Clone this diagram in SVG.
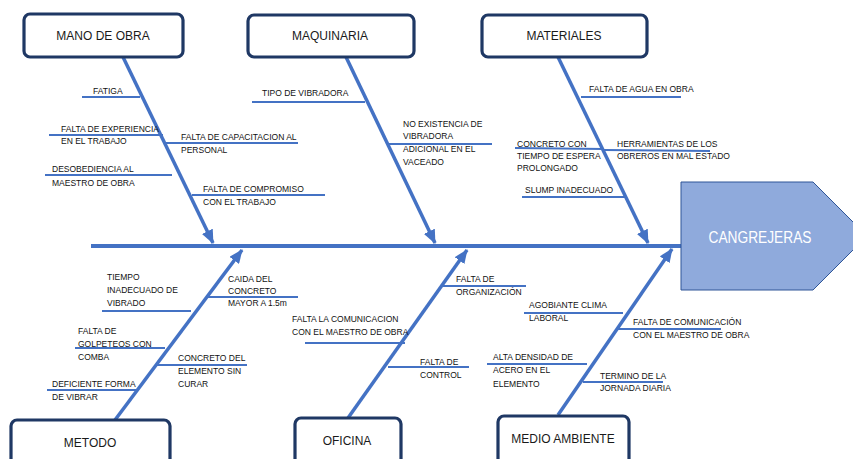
<svg xmlns="http://www.w3.org/2000/svg" width="853" height="459" viewBox="0 0 853 459">
  <defs>
    <marker id="head" markerUnits="userSpaceOnUse" markerWidth="14" markerHeight="12" refX="13" refY="6" orient="auto">
      <path d="M0,0 L14,6 L0,12 Z" fill="#4472C4"/>
    </marker>
    <style>
      .box { fill: #ffffff; stroke: #1F3864; stroke-width: 3.2; }
      .cat { font-family: "Liberation Sans", Arial, sans-serif; font-size: 12px; fill: #1a1a1a; text-anchor: middle; }
      .bone { stroke: #4472C4; stroke-width: 3.5; fill: none; }
      .spine { stroke: #4472C4; stroke-width: 4; fill: none; }
      .twig { stroke: #4472C4; stroke-width: 2; fill: none; }
      .lbl { font-family: "Liberation Sans", Arial, sans-serif; font-size: 8.5px; fill: #111111; }
      .head { fill: #8FAADC; stroke: #2F5597; stroke-width: 1; }
      .headtxt { font-family: "Liberation Sans", Arial, sans-serif; font-size: 16px; fill: #ffffff; text-anchor: middle; }
    </style>
  </defs>
  <rect width="853" height="459" fill="#ffffff"/>

  <!-- spine, bones and cause lines -->
  <g id="connectors">
    <line class="spine" x1="91" y1="246" x2="681" y2="246"/>
    <line class="bone" x1="123" y1="57" x2="213" y2="243" marker-end="url(#head)"/>
    <line class="bone" x1="346" y1="57" x2="435" y2="243" marker-end="url(#head)"/>
    <line class="bone" x1="558" y1="57" x2="648" y2="243" marker-end="url(#head)"/>
    <line class="bone" x1="115" y1="420" x2="242" y2="250" marker-end="url(#head)"/>
    <line class="bone" x1="348" y1="418" x2="467" y2="250" marker-end="url(#head)"/>
    <line class="bone" x1="558" y1="415" x2="672" y2="249" marker-end="url(#head)"/>

    <line class="twig" x1="82" y1="97" x2="140" y2="97"/>
    <line class="twig" x1="49" y1="135" x2="163" y2="135"/>
    <line class="twig" x1="164" y1="143" x2="298" y2="143"/>
    <line class="twig" x1="45" y1="175" x2="172" y2="175"/>
    <line class="twig" x1="192" y1="195" x2="325" y2="195"/>

    <line class="twig" x1="252" y1="102" x2="365" y2="102"/>
    <line class="twig" x1="388" y1="144" x2="492" y2="144"/>

    <line class="twig" x1="581" y1="97" x2="681" y2="97"/>
    <line class="twig" x1="515" y1="148" x2="604" y2="149"/>
    <line class="twig" x1="604" y1="150" x2="710" y2="151"/>
    <line class="twig" x1="522" y1="197" x2="625" y2="197"/>

    <line class="twig" x1="102" y1="311" x2="191" y2="311"/>
    <line class="twig" x1="208" y1="297" x2="298" y2="297"/>
    <line class="twig" x1="75" y1="348" x2="165" y2="348"/>
    <line class="twig" x1="157" y1="365" x2="247" y2="365"/>
    <line class="twig" x1="47" y1="390" x2="137" y2="390"/>

    <line class="twig" x1="443" y1="286" x2="526" y2="286"/>
    <line class="twig" x1="305" y1="343" x2="405" y2="343"/>
    <line class="twig" x1="388" y1="367" x2="469" y2="367"/>

    <line class="twig" x1="487" y1="364" x2="587" y2="364"/>
    <line class="twig" x1="524" y1="313" x2="623" y2="313"/>
    <line class="twig" x1="618" y1="329" x2="721" y2="329"/>
    <line class="twig" x1="583" y1="382" x2="663" y2="382"/>
  </g>

  <!-- effect -->
  <g id="cangrejeras">
    <polygon class="head" points="681,182 813,182 867,236 813,290 681,290"/>
    <text class="headtxt" x="760" y="243" textLength="103" lengthAdjust="spacingAndGlyphs">CANGREJERAS</text>
  </g>

  <!-- categories -->
  <g id="mano-de-obra">
    <rect class="box" x="24" y="14" width="159" height="43" rx="6"/>
    <text class="cat" x="103" y="40">MANO DE OBRA</text>
  </g>
  <g id="maquinaria">
    <rect class="box" x="248" y="15" width="166" height="42" rx="6"/>
    <text class="cat" x="330" y="40">MAQUINARIA</text>
  </g>
  <g id="materiales">
    <rect class="box" x="482" y="15" width="165" height="42" rx="6"/>
    <text class="cat" x="564" y="40">MATERIALES</text>
  </g>
  <g id="metodo">
    <rect class="box" x="11" y="420" width="159" height="50" rx="6"/>
    <text class="cat" x="90" y="447">METODO</text>
  </g>
  <g id="oficina">
    <rect class="box" x="295" y="418" width="106" height="50" rx="6"/>
    <text class="cat" x="347" y="445">OFICINA</text>
  </g>
  <g id="medio-ambiente">
    <rect class="box" x="498" y="416" width="131" height="50" rx="6"/>
    <text class="cat" x="563" y="443">MEDIO AMBIENTE</text>
  </g>

  <!-- causes: mano de obra -->
  <g id="fatiga"><text class="lbl" x="93" y="94">FATIGA</text></g>
  <g id="falta-experiencia"><text class="lbl" x="61" y="132">FALTA DE EXPERIENCIA<tspan x="61" y="144">EN EL TRABAJO</tspan></text></g>
  <g id="falta-capacitacion"><text class="lbl" x="181" y="140">FALTA DE CAPACITACION AL<tspan x="181" y="153">PERSONAL</tspan></text></g>
  <g id="desobediencia"><text class="lbl" x="52" y="172">DESOBEDIENCIA AL<tspan x="52" y="186">MAESTRO DE OBRA</tspan></text></g>
  <g id="falta-compromiso"><text class="lbl" x="203" y="192">FALTA DE COMPROMISO<tspan x="203" y="205">CON EL TRABAJO</tspan></text></g>

  <!-- causes: maquinaria -->
  <g id="tipo-vibradora"><text class="lbl" x="262" y="96">TIPO DE VIBRADORA</text></g>
  <g id="no-existencia"><text class="lbl" x="403" y="127">NO EXISTENCIA DE<tspan x="403" y="139">VIBRADORA</tspan><tspan x="403" y="152">ADICIONAL EN EL</tspan><tspan x="403" y="165">VACEADO</tspan></text></g>

  <!-- causes: materiales -->
  <g id="falta-agua"><text class="lbl" x="589" y="92">FALTA DE AGUA EN OBRA</text></g>
  <g id="concreto-espera"><text class="lbl" x="517" y="147">CONCRETO CON<tspan x="517" y="159">TIEMPO DE ESPERA</tspan><tspan x="517" y="171">PROLONGADO</tspan></text></g>
  <g id="herramientas"><text class="lbl" x="617" y="147">HERRAMIENTAS DE LOS<tspan x="617" y="159">OBREROS EN  MAL ESTADO</tspan></text></g>
  <g id="slump"><text class="lbl" x="525" y="193">SLUMP INADECUADO</text></g>

  <!-- causes: metodo -->
  <g id="tiempo-vibrado"><text class="lbl" x="107" y="280">TIEMPO<tspan x="107" y="293">INADECUADO DE</tspan><tspan x="107" y="306">VIBRADO</tspan></text></g>
  <g id="caida-concreto"><text class="lbl" x="228" y="282">CAIDA DEL<tspan x="228" y="294">CONCRETO</tspan><tspan x="228" y="306">MAYOR A 1.5m</tspan></text></g>
  <g id="golpeteos"><text class="lbl" x="78" y="334">FALTA DE<tspan x="78" y="347">GOLPETEOS CON</tspan><tspan x="78" y="360">COMBA</tspan></text></g>
  <g id="sin-curar"><text class="lbl" x="178" y="361">CONCRETO DEL<tspan x="178" y="374">ELEMENTO SIN</tspan><tspan x="178" y="387">CURAR</tspan></text></g>
  <g id="forma-vibrar"><text class="lbl" x="52" y="387">DEFICIENTE FORMA<tspan x="52" y="400">DE VIBRAR</tspan></text></g>

  <!-- causes: oficina -->
  <g id="organizacion"><text class="lbl" x="456" y="282">FALTA DE<tspan x="456" y="295">ORGANIZACIÓN</tspan></text></g>
  <g id="comunicacion-oficina"><text class="lbl" x="292" y="322">FALTA LA COMUNICACION<tspan x="292" y="335">CON EL MAESTRO DE OBRA</tspan></text></g>
  <g id="control"><text class="lbl" x="420" y="365">FALTA DE<tspan x="420" y="378">CONTROL</tspan></text></g>

  <!-- causes: medio ambiente -->
  <g id="densidad-acero"><text class="lbl" x="493" y="360">ALTA DENSIDAD DE<tspan x="493" y="373">ACERO EN EL</tspan><tspan x="493" y="387">ELEMENTO</tspan></text></g>
  <g id="clima-laboral"><text class="lbl" x="529" y="308">AGOBIANTE CLIMA<tspan x="529" y="321">LABORAL</tspan></text></g>
  <g id="comunicacion-ambiente"><text class="lbl" x="633" y="325">FALTA DE COMUNICACIÓN<tspan x="633" y="338">CON EL MAESTRO DE OBRA</tspan></text></g>
  <g id="jornada"><text class="lbl" x="600" y="379">TERMINO DE LA<tspan x="600" y="391">JORNADA DIARIA</tspan></text></g>
</svg>
